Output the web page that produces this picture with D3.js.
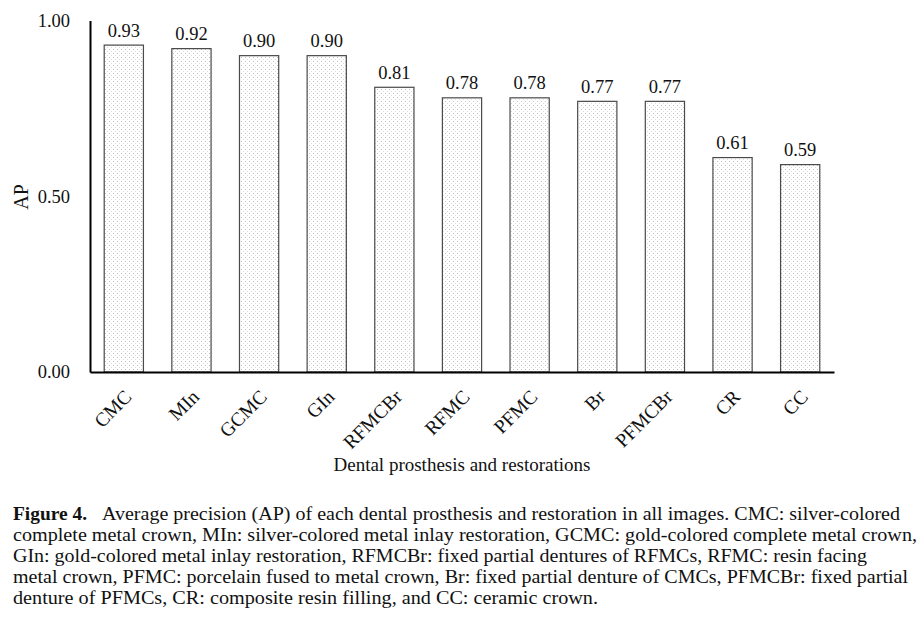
<!DOCTYPE html>
<html><head><meta charset="utf-8">
<script src="https://cdn.jsdelivr.net/npm/d3@7"></script>
<style>
html,body{margin:0;padding:0;background:#fff;}
svg{display:block;font-family:"Liberation Serif","DejaVu Serif",serif;}
</style></head>
<body>
<svg id="chart" width="922" height="620"></svg>
<script>
const categories = ["CMC","MIn","GCMC","GIn","RFMCBr","RFMC","PFMC","Br","PFMCBr","CR","CC"];
const apValues = [0.93,0.92,0.90,0.90,0.81,0.78,0.78,0.77,0.77,0.61,0.59];
const yTicks = [0, 0.5, 1.0];
const yTitle = "AP";
const xTitle = "Dental prosthesis and restorations";
const captionBold = "Figure 4.";
const captionLines = [
  "Average precision (AP) of each dental prosthesis and restoration in all images. CMC: silver-colored",
  "complete metal crown, MIn: silver-colored metal inlay restoration, GCMC: gold-colored complete metal crown,",
  "GIn: gold-colored metal inlay restoration, RFMCBr: fixed partial dentures of RFMCs, RFMC: resin facing",
  "metal crown, PFMC: porcelain fused to metal crown, Br: fixed partial denture of CMCs, PFMCBr: fixed partial",
  "denture of PFMCs, CR: composite resin filling, and CC: ceramic crown."
];

const svg = d3.select("#chart");
const mLeft = 90, mRight = 834, mTop = 20.5, mBottom = 372;
const serif = "Liberation Serif";

const defs = svg.append("defs");
const pat = defs.append("pattern").attr("id","dots").attr("patternUnits","userSpaceOnUse")
  .attr("width",4).attr("height",4);
pat.append("rect").attr("width",4).attr("height",4).attr("fill","#fff");
pat.append("rect").attr("x",1).attr("y",1).attr("width",1).attr("height",1).attr("fill","#c2c2c2");
pat.append("rect").attr("x",3).attr("y",3).attr("width",1).attr("height",1).attr("fill","#dadada");

const x = d3.scaleBand().domain(categories).range([mLeft,mRight]).paddingInner(0.42).paddingOuter(0.21);
const y = d3.scaleLinear().domain([0,1]).range([mBottom,mTop]);

// bars
svg.append("g").selectAll("rect").data(categories).join("rect")
  .attr("x",d=>x(d)).attr("width",x.bandwidth())
  .attr("y",(d,i)=>y(apValues[i])).attr("height",(d,i)=>y(0)-y(apValues[i]))
  .attr("fill","url(#dots)").attr("stroke","#4a4a4a").attr("stroke-width",1.2);

// value labels
svg.append("g").selectAll("text").data(categories).join("text")
  .attr("x",d=>x(d)+x.bandwidth()/2).attr("y",(d,i)=>y(apValues[i])-8.5)
  .attr("text-anchor","middle").attr("font-size",18.5).attr("font-family",serif).attr("fill","#111")
  .text((d,i)=>apValues[i].toFixed(2));

// y axis
const yAxis = d3.axisLeft(y).tickValues(yTicks).tickSize(0).tickPadding(20).tickFormat(d3.format(".2f"));
const gy = svg.append("g").attr("transform",`translate(${mLeft},0)`).call(yAxis);
gy.select(".domain").attr("stroke","#000").attr("stroke-width",2);
gy.selectAll("text").attr("font-size",18.5).attr("font-family",serif).attr("fill","#111");

// x axis
const xAxis = d3.axisBottom(x).tickSize(0).tickSizeOuter(0);
const gx = svg.append("g").attr("transform",`translate(0,${mBottom})`).call(xAxis);
gx.select(".domain").attr("stroke","#000").attr("stroke-width",2);
gx.selectAll("text")
  .attr("font-size",19.5).attr("font-family",serif).attr("fill","#111")
  .attr("text-anchor","end").attr("y",0).attr("dy",0)
  .attr("transform","translate(9,26) rotate(-45)");

// axis titles
svg.append("text").attr("transform",`translate(28,197) rotate(-90)`)
  .attr("text-anchor","middle").attr("font-size",20).attr("font-family",serif).attr("fill","#111").text(yTitle);
svg.append("text").attr("x",(mLeft+mRight)/2).attr("y",471)
  .attr("text-anchor","middle").attr("font-size",19).attr("font-family",serif).attr("fill","#111").text(xTitle);

// caption
const capX = 13, capY0 = 520, capDy = 20.9;
const lineEnds = [900, 917, 867, 908, 598];
svg.append("text").attr("x",capX).attr("y",capY0).attr("font-size",18).attr("font-weight","bold")
  .attr("font-family",serif).attr("fill","#111").attr("textLength",74).attr("lengthAdjust","spacingAndGlyphs").text(captionBold);
captionLines.forEach((t,i)=>{
  const sx = i===0 ? 102 : capX;
  svg.append("text").attr("x",sx).attr("y",capY0+i*capDy).attr("font-size",18).attr("font-family",serif).attr("fill","#111")
    .attr("textLength",lineEnds[i]-sx).attr("lengthAdjust","spacingAndGlyphs").text(t);
});
</script>
</body></html>
